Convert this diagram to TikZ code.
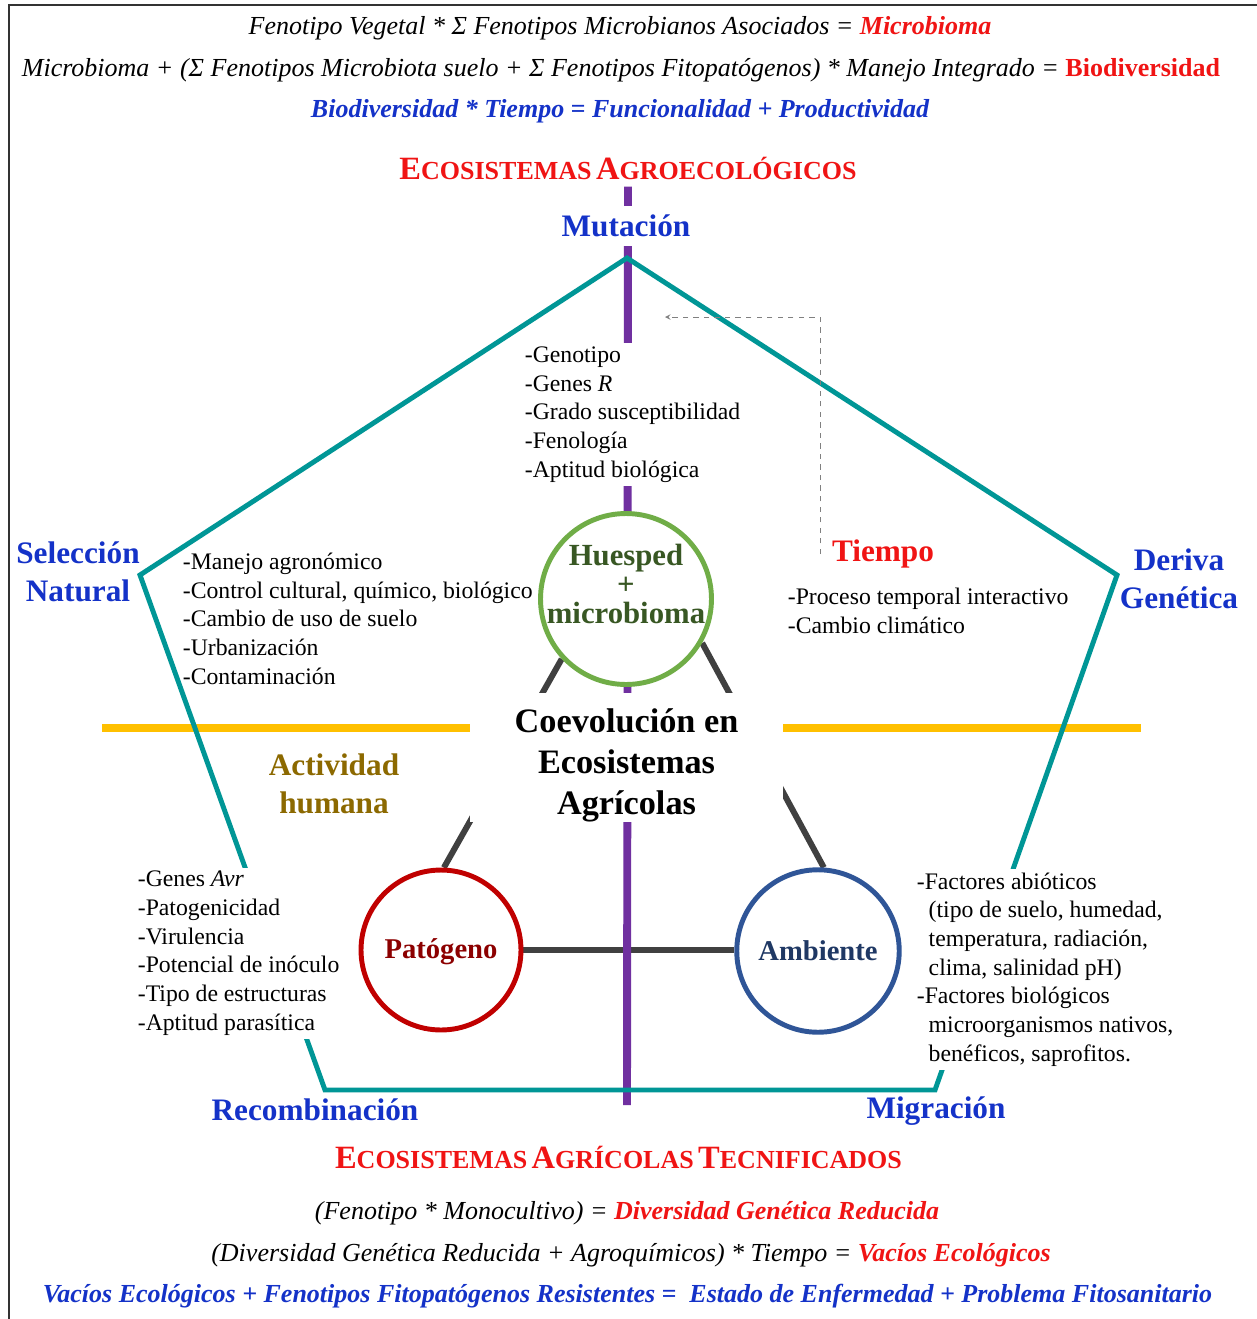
\documentclass[tikz,border=0pt]{standalone}
\usepackage{fontspec}
\setmainfont{Liberation Serif}
\usetikzlibrary{arrows,backgrounds}

\definecolor{eqred}{RGB}{240,20,20}
\definecolor{eqblue}{RGB}{20,50,200}
\definecolor{tealpent}{RGB}{0,150,150}
\definecolor{purpaxis}{RGB}{112,48,160}
\definecolor{yelaxis}{RGB}{255,192,0}
\definecolor{greyconn}{RGB}{64,64,64}
\definecolor{huesgreen}{RGB}{112,173,71}
\definecolor{huestext}{RGB}{56,87,35}
\definecolor{patred}{RGB}{192,0,0}
\definecolor{pattext}{RGB}{140,0,0}
\definecolor{ambblue}{RGB}{47,85,151}
\definecolor{ambtext}{RGB}{31,56,100}
\definecolor{humgold}{RGB}{140,105,0}

% small caps made by hand
\newcommand{\scword}[2]{{\fontsize{18.5}{20}\selectfont #1}{\fontsize{14.8}{20}\selectfont #2}}

\tikzset{
  eqline/.style={font=\fontsize{14.8}{17}\selectfont\itshape, inner sep=0pt},
  eqbold/.style={eqline, font=\fontsize{14.8}{17}\selectfont\itshape\bfseries, text=eqblue},
  titlebox/.style={font=\bfseries, text=eqred, fill=white, inner sep=4pt},
  heading/.style={font=\fontsize{17.8}{21.5}\selectfont\bfseries, text=eqblue, align=center, inner sep=1pt},
  itemlist/.style={font=\fontsize{13.5}{16.3}\selectfont, align=left, anchor=base west, inner sep=2pt},
  bigcircle/.style={circle, line width=2.8pt, fill=white, inner sep=0pt},
  circtext/.style={align=center, inner sep=0pt, font=\fontsize{16.3}{18}\selectfont\bfseries},
  pentline/.style={draw=tealpent, line width=2.8pt, line join=miter},
  axisline/.style={draw=purpaxis, line width=4.5pt},
  yelline/.style={draw=yelaxis, line width=4pt},
  conn/.style={draw=greyconn, line width=3.4pt},
  dasharrow/.style={draw=gray, dashed, thin, ->, >=stealth}
}

\begin{document}
\begin{tikzpicture}[x=0.02cm, y=-0.02cm]
  \useasboundingbox (0,0) rectangle (1257,1319);

  % frame
  \draw[line width=0.8pt, black!80] (9,1319) -- (9,5) -- (1257,5);

  % equations on top
  \node[eqline] (eqa) at (620,28) {Fenotipo Vegetal * Σ Fenotipos Microbianos Asociados = \textcolor{eqred}{\textbf{Microbioma}}};
  \node[eqline] (eqb) at (621,70) {Microbioma + (Σ Fenotipos Microbiota suelo + Σ Fenotipos Fitopatógenos) * Manejo Integrado = \textcolor{eqred}{\textbf{\upshape Biodiversidad}}};
  \node[eqbold] (eqc) at (620,111) {Biodiversidad * Tiempo = Funcionalidad + Productividad};

  \node[titlebox] (ttop) at (628,168) {\scword{E}{COSISTEMAS} \scword{A}{GROECOLÓGICOS}};

  % evolutionary forces
  \node[heading, fill=white, minimum height=0.8cm] (mut) at (626,226) {Mutación};
  \node[heading] (sel) at (78,572) {Selección\\Natural};
  \node[heading] (der) at (1179,579) {Deriva\\Genética};
  \node[heading] (rec) at (315,1110) {Recombinación};
  \node[heading] (mig) at (936,1111) {Migración};
  \node[heading, text=eqred] (tie) at (883,554) {Tiempo};
  \node[heading, text=humgold] (hum) at (334,784) {Actividad\\humana};

  % triangle of disease
  \node[bigcircle, draw=huesgreen, minimum size=3.42cm] (hues) at (626,599) {};
  \node[circtext, text=huestext, font=\fontsize{17.5}{16.5}\selectfont\bfseries] (huestxt) at ([yshift=0.3cm]hues.center) {Huesped\\+\\microbioma};
  \node[bigcircle, draw=patred, minimum size=3.2cm] (pat) at (441,950) {};
  \node[circtext, text=pattext] (pattxt) at ([yshift=-0.04cm]pat.center) {Patógeno};
  \node[bigcircle, draw=ambblue, minimum size=3.25cm] (amb) at (818,951) {};
  \node[circtext, text=ambtext] (ambtxt) at (amb.center) {Ambiente};

  \node[fill=white, minimum width=6.26cm, minimum height=2.58cm] (coev) at (626.5,757.5) {};
  \node[align=center, inner sep=0pt, font=\fontsize{19.5}{23.4}\selectfont\bfseries] (coevtxt) at (626.5,765.5) {Coevolución en\\Ecosistemas\\Agrícolas};

  % lists
  \node[itemlist, fill=white] (gen) at (521,477) {-Genotipo\\-Genes \textit{R}\\-Grado susceptibilidad\\-Fenología\\-Aptitud biológica};
  \node[itemlist] (man) at (179,684) {-Manejo agronómico\\-Control cultural, químico, biológico\\-Cambio de uso de suelo\\-Urbanización\\-Contaminación};
  \node[itemlist] (pro) at (784,633) {-Proceso temporal interactivo\\-Cambio climático};
  \node[itemlist, fill=white] (pal) at (134,1030) {-Genes \textit{Avr}\\-Patogenicidad\\-Virulencia\\-Potencial de inóculo\\-Tipo de estructuras\\-Aptitud parasítica};
  \node[itemlist, fill=white] (fac) at (913,1061) {-Factores abióticos\\\hspace*{0.5em}(tipo de suelo, humedad,\\\hspace*{0.5em}temperatura, radiación,\\\hspace*{0.5em}clima, salinidad pH)\\-Factores biológicos\\\hspace*{0.5em}microorganismos nativos,\\\hspace*{0.5em}benéficos, saprofitos.};

  \node[titlebox] (tbot) at (618.5,1157) {\scword{E}{COSISTEMAS} \scword{A}{GRÍCOLAS} \scword{T}{ECNIFICADOS}};

  % equations at the bottom
  \node[eqline] (eqd) at (627,1213) {(Fenotipo * Monocultivo) = \textcolor{eqred}{\textbf{Diversidad Genética Reducida}}};
  \node[eqline] (eqe) at (631,1255) {(Diversidad Genética Reducida + Agroquímicos) * Tiempo = \textcolor{eqred}{\textbf{Vacíos Ecológicos}}};
  \node[eqbold] (eqf) at (627.5,1296) {Vacíos Ecológicos + Fenotipos Fitopatógenos Resistentes = \ Estado de Enfermedad + Problema Fitosanitario};

  % pentagon corners and free ends
  \coordinate (pT) at (627,258);
  \coordinate (pR) at (1117,575);
  \coordinate (pBR) at (935,1090);
  \coordinate (pBL) at (325,1090);
  \coordinate (pL) at (140,575);
  \coordinate (axbot) at (627,1105);
  \coordinate (yl) at (102,728);
  \coordinate (yr) at (1141,728);
  \coordinate (dashtop) at (820,317);
  \coordinate (dashend) at (665,317);

  \draw[dasharrow] (tie.west -| dashtop) -- (dashtop) -- (dashend);

  \begin{scope}[on background layer]
    \fill[white] (0,0) rectangle (1257,1319);
    \draw[conn] (hues.223) -- (pat.88);
    \draw[conn] (hues.330) -- (amb.86);
    \draw[conn] (pat.east) -- (pat.east -| amb.west);
    \draw[axisline] (ttop.south) -- (axbot);
    \draw[yelline] (yl) -- (yr);
    \draw[pentline] (pT) -- (pR) -- (pBR) -- (pBL) -- (pL) -- cycle;
  \end{scope}
\end{tikzpicture}
\end{document}
